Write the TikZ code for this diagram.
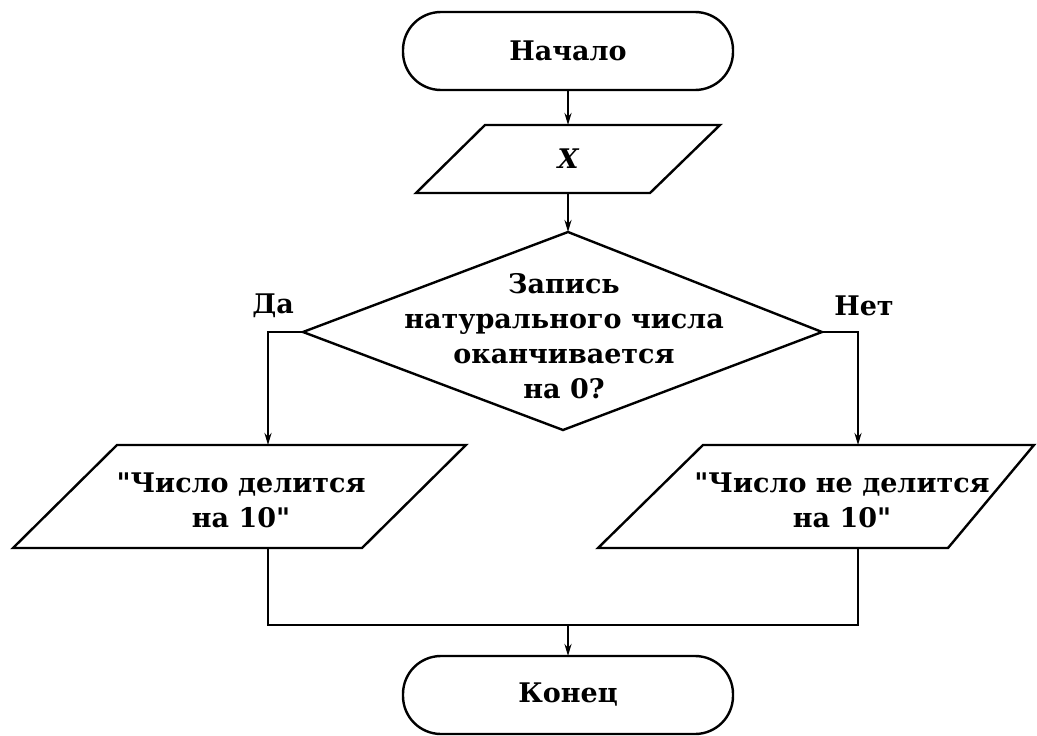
\documentclass[tikz,border=0pt]{standalone}
\usepackage{fontspec}
\setmainfont{DejaVu Serif}[Ligatures=TeXOff]
\usetikzlibrary{arrows.meta,shapes.geometric}
\begin{document}
\begin{tikzpicture}[x=1pt,y=-1pt,
  every node/.style={font=\fontsize{27}{35}\selectfont\bfseries, align=center, inner sep=0pt, outer sep=0pt},
  shapeline/.style={draw, line width=2.4pt, line join=miter},
  term/.style={shapeline, rounded corners=38pt, minimum width=330pt, minimum height=78pt},
  arr/.style={-{Stealth[length=12pt,width=7pt]}, line width=2pt},
  ln/.style={line width=2pt}]
\useasboundingbox (0,0) rectangle (1037,736);

% start
\node[term] (start) at (568,51) {Начало};

% input X
\coordinate (inTop) at (568,125);
\coordinate (inBot) at (568,193);
\draw[shapeline] (485,125) -- (720,125) -- (650,193) -- (416,193) -- cycle;
\node (xin) at (568,159) {\itshape X};

% decision
\coordinate (dTop) at (568,232);
\coordinate (dRight) at (822,332);
\coordinate (dBot) at (563,430);
\coordinate (dLeft) at (303,332);
\draw[shapeline] (dTop) -- (dRight) -- (dBot) -- (dLeft) -- cycle;
\node (dect) at (564,336) {Запись\\натурального числа\\оканчивается\\на 0?};
\node (yes) at (273,306) {Да};
\node (no) at (864,306) {Нет};

% left output
\coordinate (ltop) at (268,445);
\coordinate (lbot) at (268,548);
\draw[shapeline] (117,445) -- (466,445) -- (362,548) -- (13,548) -- cycle;
\node (ltext) at (241,500) {"Число делится\\на 10"};

% right output
\coordinate (rtop) at (858,445);
\coordinate (rbot) at (858,548);
\draw[shapeline] (703,445) -- (1034,445) -- (948,548) -- (598,548) -- cycle;
\node (rtext) at (842,500) {"Число не делится\\на 10"};

% end
\node[term] (end) at (568,695) {Конец};

% connectors
\coordinate (ljoin) at (268,625);
\coordinate (rjoin) at (858,625);
\coordinate (mjoin) at (568,625);
\draw[arr] (start.south) -- (inTop);
\draw[arr] (inBot) -- (dTop);
\draw[arr] (dLeft) -| (ltop);
\draw[arr] (dRight) -| (rtop);
\draw[ln] (lbot) -- (ljoin) -- (rjoin) -- (rbot);
\draw[arr] (mjoin) -- (end.north);
\end{tikzpicture}
\end{document}
